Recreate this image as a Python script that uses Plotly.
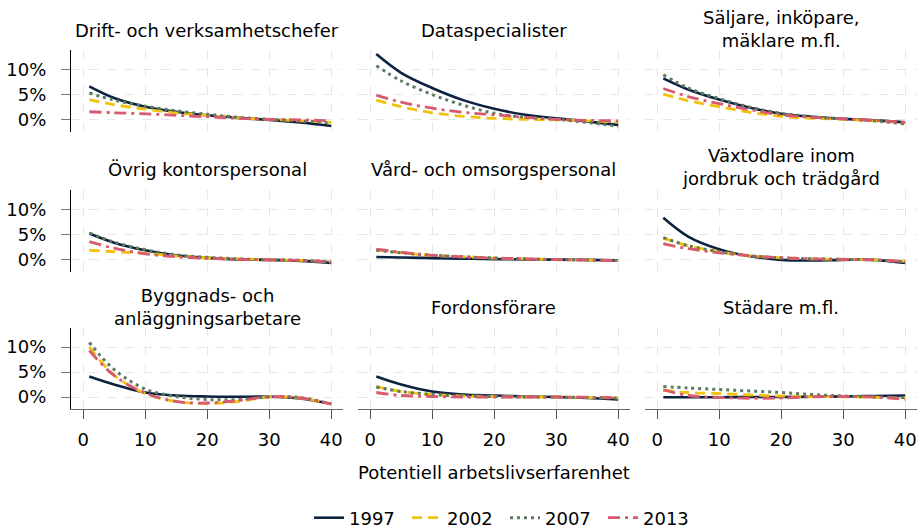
import plotly.graph_objects as go

# ---------------- data ----------------
EXPERIENCE = [1, 5, 10, 15, 20, 25, 30, 35, 40]
YEARS = ["1997", "2002", "2007", "2013"]
X_TICKS = [0, 10, 20, 30, 40]
Y_TICKS = [0, 5, 10]
Y_TICK_LABELS = ["0%", "5%", "10%"]

PANELS = [
    "Drift- och verksamhetschefer",
    "Dataspecialister",
    "Säljare, inköpare,<br>mäklare m.fl.",
    "Övrig kontorspersonal",
    "Vård- och omsorgspersonal",
    "Växtodlare inom<br>jordbruk och trädgård",
    "Byggnads- och<br>anläggningsarbetare",
    "Fordonsförare",
    "Städare m.fl.",
]

drift_1997 = [6.6, 4.3, 2.6, 1.6, 0.9, 0.4, 0.0, -0.5, -1.2]
drift_2002 = [4.0, 3.0, 2.1, 1.4, 0.9, 0.4, 0.1, -0.2, -0.5]
drift_2007 = [5.3, 3.9, 2.7, 1.8, 1.1, 0.5, 0.1, -0.2, -0.6]
drift_2013 = [1.6, 1.4, 1.2, 0.9, 0.6, 0.3, 0.1, 0.0, -0.2]

data_1997 = [13.0, 9.3, 6.3, 3.9, 2.2, 1.0, 0.3, -0.3, -1.0]
data_2002 = [3.9, 2.6, 1.4, 0.7, 0.3, 0.1, 0.0, -0.2, -0.45]
data_2007 = [10.7, 7.7, 5.0, 2.9, 1.3, 0.5, 0.1, -0.5, -1.3]
data_2013 = [4.9, 3.5, 2.3, 1.5, 1.0, 0.5, 0.1, -0.1, -0.2]

salj_1997 = [8.2, 6.0, 4.0, 2.4, 1.2, 0.6, 0.2, -0.1, -0.5]
salj_2002 = [5.1, 3.8, 2.6, 1.5, 0.7, 0.3, 0.1, -0.2, -0.6]
salj_2007 = [8.9, 6.3, 4.2, 2.5, 1.3, 0.6, 0.2, -0.2, -0.8]
salj_2013 = [6.2, 4.6, 3.2, 2.0, 1.0, 0.5, 0.2, -0.1, -0.5]

kontor_1997 = [5.2, 3.4, 1.9, 0.9, 0.4, 0.1, 0.0, -0.2, -0.6]
kontor_2002 = [1.9, 1.6, 1.3, 0.8, 0.4, 0.2, 0.0, -0.1, -0.4]
kontor_2007 = [5.3, 3.5, 2.0, 1.0, 0.5, 0.2, 0.0, -0.1, -0.4]
kontor_2013 = [3.6, 2.3, 1.2, 0.6, 0.3, 0.1, 0.0, -0.1, -0.4]

vard_1997 = [0.55, 0.45, 0.35, 0.25, 0.15, 0.1, 0.05, 0.0, -0.1]
vard_2002 = [2.0, 1.4, 0.9, 0.6, 0.35, 0.2, 0.05, -0.05, -0.15]
vard_2007 = [1.9, 1.4, 0.9, 0.6, 0.35, 0.2, 0.05, -0.05, -0.15]
vard_2013 = [2.1, 1.5, 0.9, 0.6, 0.35, 0.2, 0.05, -0.05, -0.15]

vaxt_1997 = [8.3, 4.6, 2.1, 0.7, 0.0, -0.1, 0.0, 0.0, -0.6]
vaxt_2002 = [4.3, 2.8, 1.6, 0.8, 0.4, 0.2, 0.1, 0.0, -0.3]
vaxt_2007 = [4.4, 2.8, 1.6, 0.8, 0.4, 0.2, 0.1, 0.0, -0.4]
vaxt_2013 = [3.2, 2.2, 1.4, 0.8, 0.4, 0.2, 0.1, 0.0, -0.3]

bygg_1997 = [4.1, 2.5, 0.9, 0.3, 0.1, 0.05, 0.05, -0.3, -1.4]
bygg_2002 = [10.0, 4.4, 0.7, -0.9, -1.3, -0.9, 0.0, -0.2, -1.4]
bygg_2007 = [10.9, 5.5, 1.6, 0.1, -0.5, -0.5, 0.0, -0.1, -1.4]
bygg_2013 = [9.3, 4.3, 0.8, -0.9, -1.2, -0.7, 0.05, -0.2, -1.4]

fordon_1997 = [4.1, 2.5, 1.1, 0.5, 0.3, 0.1, 0.0, -0.2, -0.5]
fordon_2002 = [2.1, 1.1, 0.5, 0.2, 0.1, 0.0, 0.0, -0.1, -0.2]
fordon_2007 = [2.0, 1.1, 0.5, 0.2, 0.1, 0.0, 0.0, -0.1, -0.2]
fordon_2013 = [0.9, 0.3, 0.1, 0.0, 0.0, 0.0, 0.0, -0.05, -0.15]

stad_1997 = [-0.05, -0.05, -0.05, 0.0, 0.0, 0.05, 0.1, 0.2, 0.3]
stad_2002 = [1.4, 0.9, 0.7, 0.4, 0.2, 0.1, 0.05, -0.05, -0.2]
stad_2007 = [2.1, 1.8, 1.5, 1.2, 0.9, 0.5, 0.2, 0.0, -0.1]
stad_2013 = [1.4, 0.3, -0.1, -0.25, -0.2, 0.05, 0.1, 0.0, -0.45]

SERIES = [
    [drift_1997, drift_2002, drift_2007, drift_2013],
    [data_1997, data_2002, data_2007, data_2013],
    [salj_1997, salj_2002, salj_2007, salj_2013],
    [kontor_1997, kontor_2002, kontor_2007, kontor_2013],
    [vard_1997, vard_2002, vard_2007, vard_2013],
    [vaxt_1997, vaxt_2002, vaxt_2007, vaxt_2013],
    [bygg_1997, bygg_2002, bygg_2007, bygg_2013],
    [fordon_1997, fordon_2002, fordon_2007, fordon_2013],
    [stad_1997, stad_2002, stad_2007, stad_2013],
]

# ---------------- styling ----------------
W, H = 917, 530
FONT = "DejaVu Sans, Arial, sans-serif"
FS = 18
COLORS = ["#0d2240", "#f0c20c", "#5c7a5f", "#d85a6e"]
DASHES = ["solid", "10px,6px", "3px,4px", "12px,5px,3px,5px"]
WIDTHS = [2.6, 2.8, 3.0, 2.8]

COL_PX = [(71, 343), (358, 630), (645, 917)]
ROW_PX = [(50, 132), (190, 272), (328, 409)]
TITLE_Y_SINGLE = [31, 170, 307]
TITLE_Y_MULTI = [29, 167, 307]

X_RANGE = [-1.95, 41.9]
Y_RANGE = [-2.4, 13.8]

fig = go.Figure()
layout = {}
annotations = []

for i, title in enumerate(PANELS):
    r, c = divmod(i, 3)
    n = i + 1
    xa = "x" if n == 1 else f"x{n}"
    ya = "y" if n == 1 else f"y{n}"
    xkey = "xaxis" if n == 1 else f"xaxis{n}"
    ykey = "yaxis" if n == 1 else f"yaxis{n}"
    x0, x1 = COL_PX[c]
    y0, y1 = ROW_PX[r]
    bottom = r == 2
    left = c == 0
    layout[xkey] = dict(
        domain=[x0 / W, x1 / W], anchor=ya, range=X_RANGE,
        tickvals=X_TICKS, showticklabels=bottom,
        ticks="outside" if bottom else "", ticklen=9, tickcolor="#555555",
        showline=bottom, linecolor="#666666", linewidth=1.2,
        showgrid=True, gridcolor="#e6e6e6", griddash="dash", gridwidth=1,
        zeroline=False, tickfont=dict(size=FS, color="black", family=FONT),
        ticklabelstandoff=5, fixedrange=True, automargin=False,
    )
    layout[ykey] = dict(
        domain=[1 - y1 / H, 1 - y0 / H], anchor=xa, range=Y_RANGE,
        tickvals=Y_TICKS, ticktext=Y_TICK_LABELS, showticklabels=left,
        ticks="outside" if left else "", ticklen=9, tickcolor="#777777",
        showline=left, linecolor="black", linewidth=1.2,
        showgrid=True, gridcolor="#e6e6e6", griddash="dash", gridwidth=1,
        zeroline=False, tickfont=dict(size=FS, color="black", family=FONT),
        ticklabelstandoff=11, fixedrange=True, automargin=False,
    )
    for k, year in enumerate(YEARS):
        fig.add_trace(go.Scatter(
            x=EXPERIENCE, y=SERIES[i][k], mode="lines", name=year,
            legendgroup=year, showlegend=(i == 0),
            line=dict(color=COLORS[k], width=WIDTHS[k], dash=DASHES[k],
                      shape="spline", smoothing=1.0),
            xaxis=xa, yaxis=ya, hoverinfo="skip",
        ))
    ty = TITLE_Y_MULTI[r] if "<br>" in title else TITLE_Y_SINGLE[r]
    annotations.append(dict(
        text=title, x=(x0 + x1) / 2 / W, y=1 - ty / H,
        xref="paper", yref="paper", showarrow=False,
        xanchor="center", yanchor="middle",
        font=dict(size=FS, color="black", family=FONT),
    ))

annotations.append(dict(
    text="Potentiell arbetslivserfarenhet", x=494 / W, y=1 - 472 / H,
    xref="paper", yref="paper", showarrow=False,
    xanchor="center", yanchor="middle",
    font=dict(size=FS, color="black", family=FONT),
))

fig.update_layout(
    **layout,
    width=W, height=H,
    margin=dict(l=0, r=0, t=0, b=0, autoexpand=False),
    paper_bgcolor="white", plot_bgcolor="white",
    font=dict(family=FONT, size=FS, color="black"),
    annotations=annotations,
    showlegend=True,
    legend=dict(orientation="h", x=505 / W, xanchor="center",
                y=1 - 518 / H, yanchor="middle",
                font=dict(size=FS, color="black", family=FONT),
                entrywidth=53, entrywidthmode="pixels",
                bgcolor="rgba(0,0,0,0)"),
)

fig.write_html(
    "out.html",
    config={"displayModeBar": False},
    post_script="document.body.style.margin='0';document.body.style.overflow='hidden';",
)
